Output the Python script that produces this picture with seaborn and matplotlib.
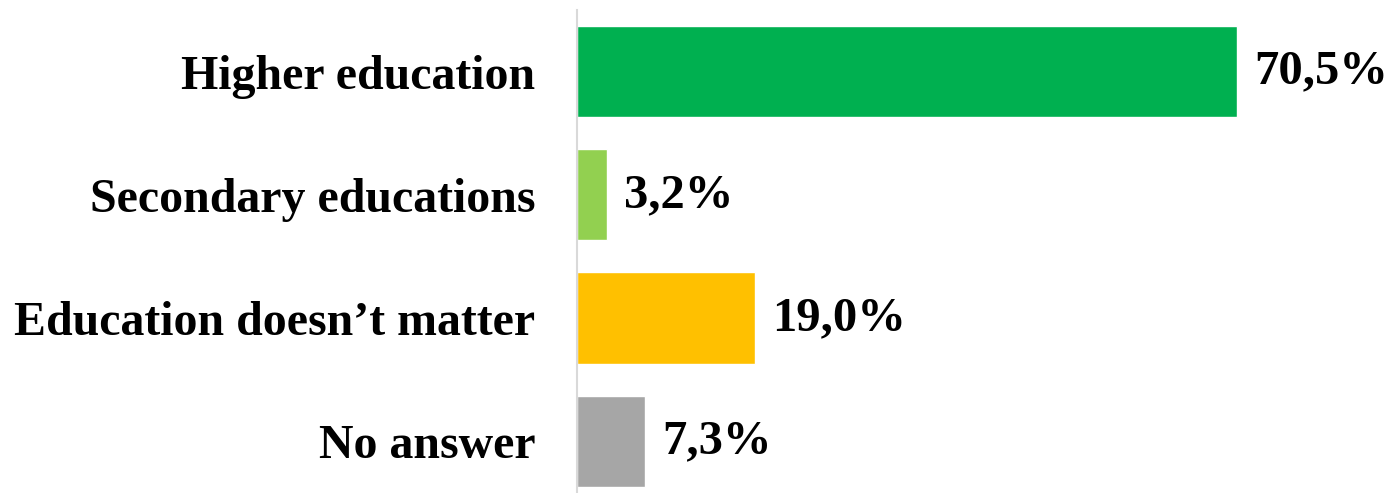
import matplotlib
matplotlib.use("Agg")
import matplotlib.pyplot as plt
import seaborn as sns
import pandas as pd

# datos
categories = ["Higher education", "Secondary educations", "Education doesn\u2019t matter", "No answer"]
values = [70.5, 3.2, 19.0, 7.3]
colors = ["#00B050", "#92D050", "#FFC000", "#A6A6A6"]

df = pd.DataFrame({"cat": categories, "val": values})

sns.set_style("white")
plt.rcParams["font.family"] = ["Liberation Serif", "DejaVu Serif"]

fig = plt.figure(figsize=(13.89, 4.93), dpi=100)
ax = fig.add_axes([577 / 1389, 0.0, 0.58, 483 / 493])

sns.barplot(data=df, x="val", y="cat", hue="cat", palette=colors,
            orient="h", width=0.74, legend=False, ax=ax, saturation=1)

ax.set_xlim(0, 86)
ax.set_ylim(3.42, -0.50)
ax.set_xlabel("")
ax.set_ylabel("")
ax.set_xticks([])
for s in ["top", "right", "bottom"]:
    ax.spines[s].set_visible(False)
ax.spines["left"].set_color("#D9D9D9")
ax.spines["left"].set_linewidth(1.5)

ax.tick_params(axis="y", length=0, pad=30)
for lab in ax.get_yticklabels():
    lab.set_fontsize(34.5)
    lab.set_fontweight("bold")
    lab.set_color("black")

for i, v in enumerate(values):
    ax.text(v + 1.8, i, f"{v:.1f}%".replace(".", ","), va="center", ha="left",
            fontsize=35, fontweight="bold", color="black")

fig.savefig("out.png", dpi=100)
